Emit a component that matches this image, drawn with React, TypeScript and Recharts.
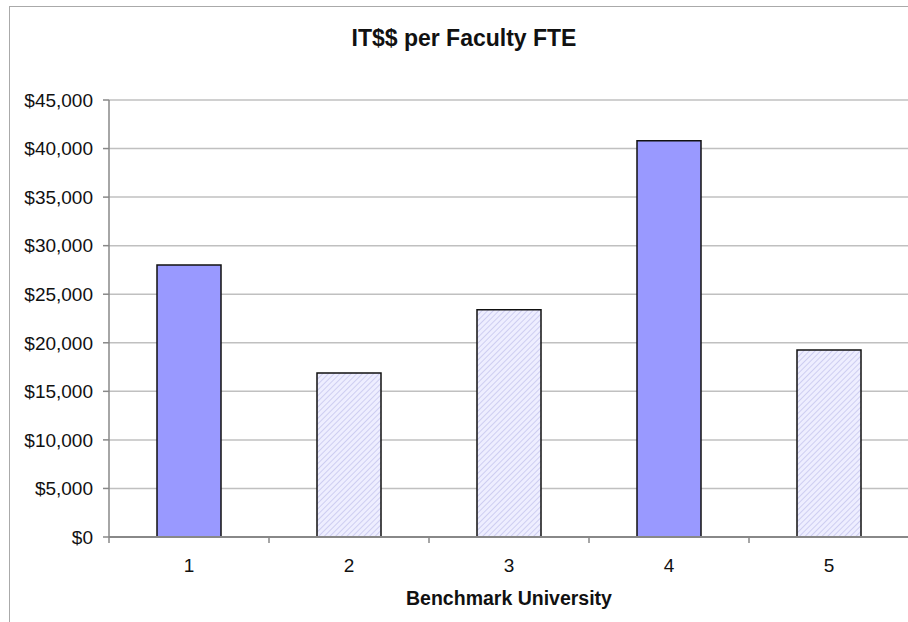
import React from "react";
import { BarChart, Bar, XAxis, YAxis, CartesianGrid, Cell, Label } from "recharts";

const universities = ["1", "2", "3", "4", "5"];
const itPerFte = [28000, 16900, 23400, 40800, 19250];
const hatched = [false, true, true, false, true];
const yTicks = [0, 5000, 10000, 15000, 20000, 25000, 30000, 35000, 40000, 45000];

const data = universities.map((u, i) => ({ name: u, value: itPerFte[i], hatched: hatched[i] }));

const FONT = "'Liberation Sans', Arial, sans-serif";

const fmt = (v: number) => "$" + v.toLocaleString("en-US");

function CategoryTick(props: any) {
  const { x, y, payload } = props;
  const band = 160;
  return (
    <g>
      <line x1={x - band / 2} x2={x - band / 2} y1={y - 8} y2={y - 2} stroke="#888" strokeWidth={1.5} />
      <text x={x} y={y + 27} textAnchor="middle" fontSize={19} fill="#111" fontFamily={FONT}>
        {payload.value}
      </text>
    </g>
  );
}

export default function App() {
  return (
    <div style={{ position: "absolute", left: 0, top: 0, width: 908, height: 622, background: "#fff", overflow: "hidden" }}>
      <div
        style={{
          position: "absolute",
          left: 9,
          top: 6,
          width: 920,
          height: 640,
          border: "1px solid #aaa",
        }}
      />
      <div
        style={{
          position: "absolute",
          left: 264,
          top: 25,
          width: 400,
          textAlign: "center",
          fontFamily: FONT,
          fontWeight: "bold",
          fontSize: 23,
          color: "#111",
        }}
      >
        IT$$ per Faculty FTE
      </div>
      <div style={{ position: "absolute", left: 0, top: 0 }}>
        <BarChart
          width={910}
          height={622}
          data={data}
          margin={{ top: 100, right: 1, left: 0, bottom: 35 }}
        >
          <defs>
            <pattern id="hatch" width="4" height="4" patternUnits="userSpaceOnUse" patternTransform="rotate(45)">
              <rect width="4" height="4" fill="#eeeeff" />
              <line x1="0" y1="0" x2="0" y2="4" stroke="#c6c6ee" strokeWidth={1.6} />
            </pattern>
          </defs>
          <CartesianGrid vertical={false} stroke="#c0c0c0" strokeWidth={1.5} />
          <XAxis
            dataKey="name"
            height={50}
            stroke="#888"
            strokeWidth={2}
            tickLine={false}
            tick={<CategoryTick />}
            interval={0}
          >
            <Label
              value="Benchmark University"
              position="bottom"
              offset={4}
              style={{ fontFamily: FONT, fontWeight: "bold", fontSize: 19.5, fill: "#111" }}
            />
          </XAxis>
          <YAxis
            width={109}
            domain={[0, 45000]}
            ticks={yTicks}
            interval={0}
            tickFormatter={fmt}
            stroke="#888"
            strokeWidth={1.5}
            tickSize={6}
            tickMargin={10}
            tick={{ fontSize: 19, fill: "#111", fontFamily: FONT }}
          />
          <Bar dataKey="value" barSize={64} stroke="#111" strokeWidth={1.5} isAnimationActive={false}>
            {data.map((d, i) => (
              <Cell key={i} fill={d.hatched ? "url(#hatch)" : "#9999ff"} />
            ))}
          </Bar>
        </BarChart>
      </div>
    </div>
  );
}
